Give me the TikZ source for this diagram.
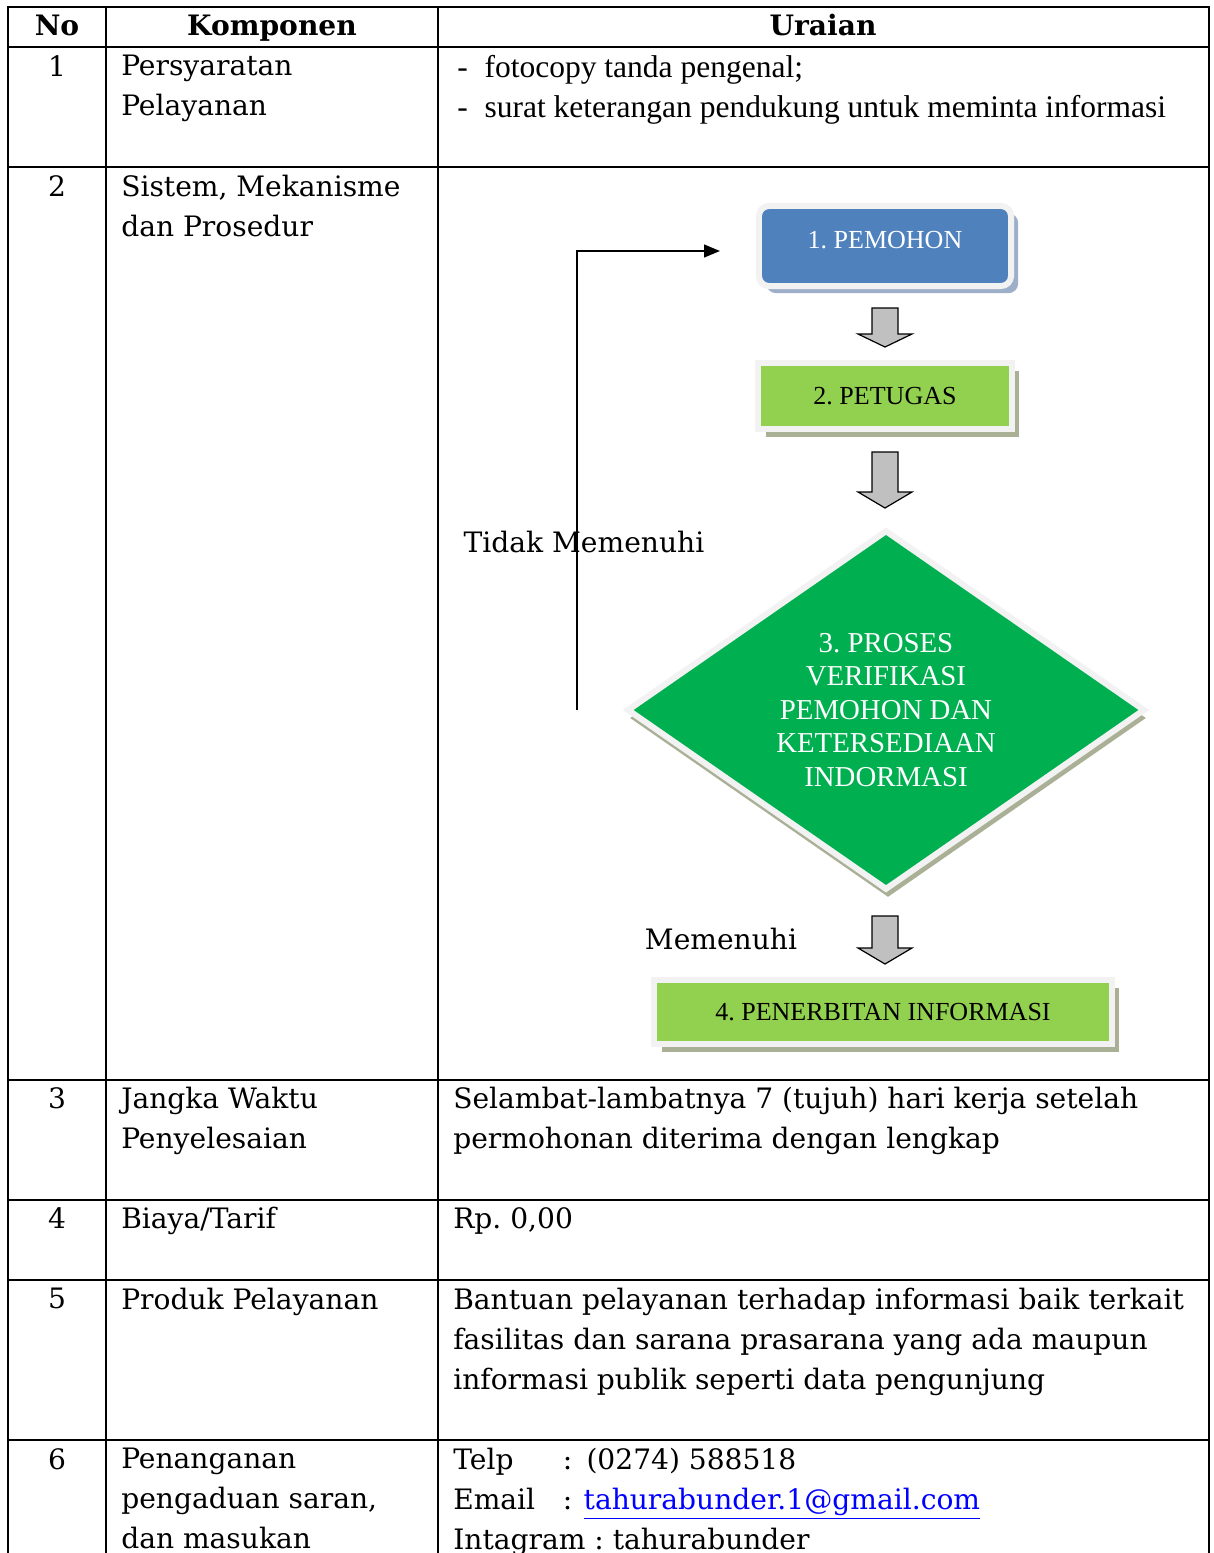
\documentclass[tikz,border=0pt]{standalone}
\usepackage{fontspec}
\setmainfont{DejaVu Serif}
\newfontfamily\flowfont{Liberation Serif}
\usetikzlibrary{shapes.geometric,shadows,arrows.meta}
\frenchspacing

\definecolor{pemohonblue}{HTML}{4F81BD}
\definecolor{lightgreen}{HTML}{92D050}
\definecolor{darkgreen}{HTML}{00B050}
\definecolor{rimgray}{HTML}{F2F2F2}
\definecolor{shadeblue}{HTML}{9DAFC9}
\definecolor{shadeolive}{HTML}{A9B096}
\definecolor{arrowgray}{HTML}{C0C0C0}
\definecolor{linkblue}{HTML}{0000FF}

\begin{document}
\begin{tikzpicture}[x=0.025cm, y=-0.025cm,
    grid/.style={line width=0.05cm, line cap=rect},
    head/.style={anchor=base, inner sep=0pt, font=\fontsize{20}{24}\selectfont\bfseries},
    num/.style={anchor=north, inner sep=0pt, font=\fontsize{20}{28.45}\selectfont},
    cell/.style={anchor=north west, inner sep=0pt, align=left, font=\fontsize{20}{28.45}\selectfont},
    syarat/.style={anchor=north west, inner sep=0pt, align=left, font=\flowfont\fontsize{22.4}{28.45}\selectfont},
    flowbox/.style={rectangle, draw=rimgray, line width=0.15cm, inner sep=0pt, font=\flowfont\fontsize{18.5}{22}\selectfont},
    pemohonbox/.style={flowbox, rounded corners=0.25cm, fill=pemohonblue, text=white, text depth=0.3cm,
        minimum width=6.3cm, minimum height=2cm,
        drop shadow={shadow xshift=0.18cm, shadow yshift=-0.18cm, fill=shadeblue, opacity=1}},
    greenbox/.style={flowbox, fill=lightgreen, text=black,
        drop shadow={shadow xshift=0.18cm, shadow yshift=-0.2cm, fill=shadeolive, opacity=1}},
    checkdiamond/.style={diamond, aspect=1.43, draw=rimgray, line width=0.15cm, inner sep=0pt,
        fill=darkgreen, text=white, align=center, minimum width=12.95cm, minimum height=9cm,
        font=\flowfont\fontsize{20.5}{23.8}\selectfont,
        drop shadow={shadow xshift=0.05cm, shadow yshift=-0.2cm, fill=shadeolive, opacity=1}},
    note/.style={inner sep=0pt, font=\fontsize{20}{24}\selectfont},
    pics/blockdown/.style 2 args={code={
        \draw[fill=arrowgray, line width=0.03cm, line join=miter]
            (-13,0) -- (13,0) -- (13,#1) -- (27,#1) -- (0,#2) -- (-27,#1) -- (-13,#1) -- cycle;
    }}]

\path[use as bounding box, fill=white] (0,0) rectangle (1213,1553);

% Table rules
\draw[grid] (8,7) -- (1209,7);
\draw[grid] (8,47) -- (1209,47);
\draw[grid] (8,167) -- (1209,167);
\draw[grid] (8,1080) -- (1209,1080);
\draw[grid] (8,1200) -- (1209,1200);
\draw[grid] (8,1280) -- (1209,1280);
\draw[grid] (8,1440) -- (1209,1440);
\draw[grid] (8,7) -- (8,1560);
\draw[grid] (106,7) -- (106,1560);
\draw[grid] (438,7) -- (438,1560);
\draw[grid] (1209,7) -- (1209,1560);

% Header
\node[head] (hno) at (57,35) {No};
\node[head] (hkomponen) at (272,35) {Komponen};
\node[head] (huraian) at (823,35) {Uraian};

% Row numbers
\node[num] (no1) at (57,55) {1};
\node[num] (no2) at (57,175) {2};
\node[num] (no3) at (57,1087) {3};
\node[num] (no4) at (57,1207) {4};
\node[num] (no5) at (57,1288) {5};
\node[num] (no6) at (57,1448) {6};

% Komponen column
\node[cell] (komp1) at (121,55) {Persyaratan\\Pelayanan};
\node[cell] (komp2) at (121,175) {Sistem, Mekanisme\\dan Prosedur};
\node[cell] (komp3) at (121,1087) {Jangka Waktu\\Penyelesaian};
\node[cell] (komp4) at (121,1207) {Biaya/Tarif};
\node[cell] (komp5) at (121,1288) {Produk Pelayanan};
\node[cell] (komp6) at (121,1448) {Penanganan\\pengaduan saran,\\dan masukan};

% Uraian column
\node[syarat] (urai1) at (457,55) {-\hspace{12pt}fotocopy tanda pengenal;\\-\hspace{12pt}surat keterangan pendukung untuk meminta informasi};
\node[cell] (urai3) at (453,1087) {Selambat-lambatnya 7 (tujuh) hari kerja setelah\\permohonan diterima dengan lengkap};
\node[cell] (urai4) at (453,1207) {Rp. 0,00};
\node[cell] (urai5) at (453,1288) {Bantuan pelayanan terhadap informasi baik terkait\\fasilitas dan sarana prasarana yang ada maupun\\informasi publik seperti data pengunjung};
\node[cell] (urai6) at (453,1448) {\makebox[78pt][l]{Telp}:\hspace{10pt}(0274) 588518\\
    \makebox[78pt][l]{Email}:\hspace{8pt}{\color{linkblue}\underline{tahurabunder.1@gmail.com}}\\
    Intagram : tahurabunder};

% Flowchart steps
\node[pemohonbox] (pemohon) at (885,246) {1. PEMOHON};
\node[greenbox, minimum width=6.33cm, minimum height=1.65cm] (petugas) at (885,396) {2. PETUGAS};
\node[checkdiamond] (proses) at (886,710) {3. PROSES\\VERIFIKASI\\PEMOHON DAN\\KETERSEDIAAN\\INDORMASI};
\node[greenbox, minimum width=11.43cm, minimum height=1.6cm] (terbit) at (883,1012) {4. PENERBITAN INFORMASI};

% Block arrows between steps
\pic (arrowone) at (885,308) {blockdown={26}{39}};
\pic (arrowtwo) at (885,452) {blockdown={40}{56}};
\pic (arrowthree) at (885,916) {blockdown={32}{48}};

% Feedback when not complete
\coordinate (loopstart) at (577,710);
\coordinate (looptip) at (720,251);
\draw[line width=0.05cm, -{Triangle[length=0.4cm,width=0.32cm]}] (loopstart) |- (looptip);

% Branch labels
\node[note] (tidak) at (584,542) {Tidak Memenuhi};
\node[note] (memenuhi) at (721,939) {Memenuhi};

\end{tikzpicture}
\end{document}
